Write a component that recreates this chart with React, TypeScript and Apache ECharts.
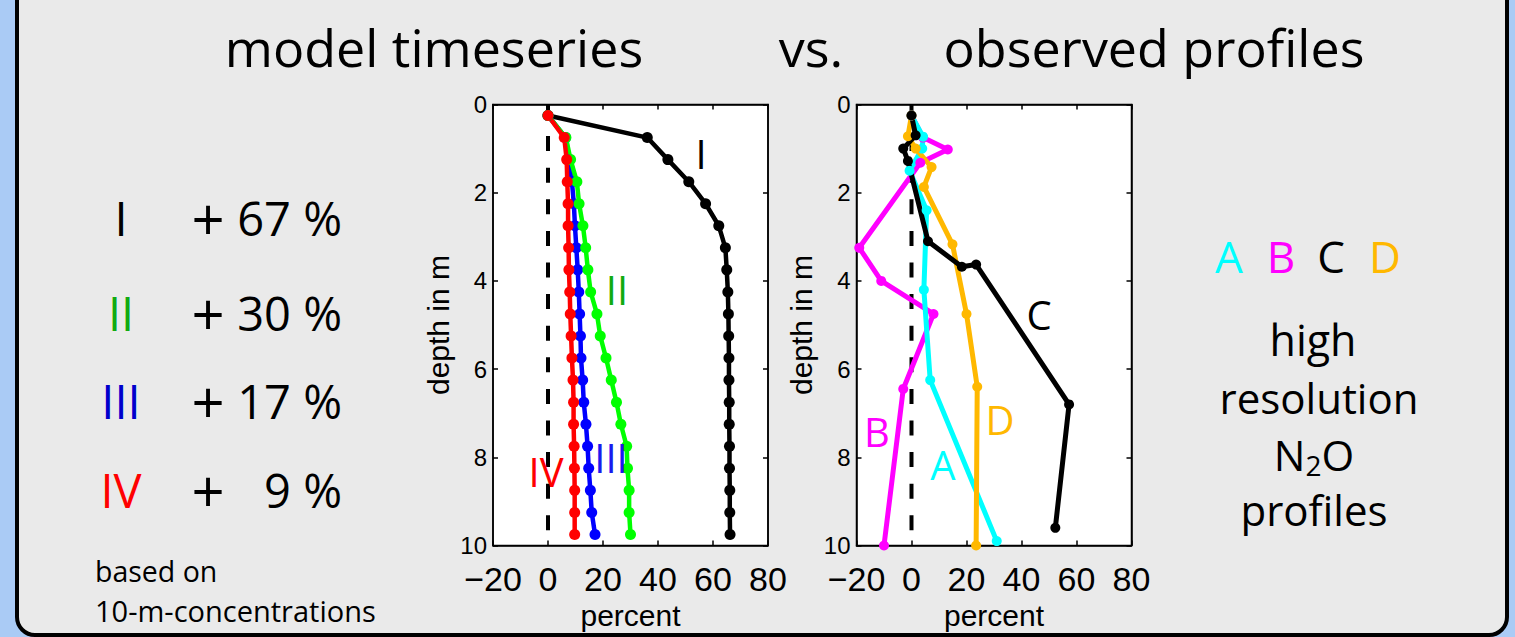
import React, { useEffect, useRef } from "react";
import * as echarts from "echarts";

const FONT = "'Open Sans', sans-serif";
const AXIS_FONT = "'Liberation Sans', Arial, sans-serif";

// ---- model timeseries (left panel) ----
const MODEL_DEPTHS = [0.25, 0.75, 1.25, 1.75, 2.25, 2.75, 3.25, 3.75, 4.25, 4.75, 5.25, 5.75, 6.25, 6.75, 7.25, 7.75, 8.25, 8.75, 9.25, 9.75];
const MODEL_I = [0, 36.1, 43.6, 51.2, 57.3, 62.1, 64.5, 65.0, 65.4, 65.6, 65.7, 65.8, 65.8, 65.9, 65.9, 66.0, 66.0, 66.1, 66.1, 66.2];
const MODEL_II = [0, 6.5, 8.2, 10.5, 11.3, 12.7, 13.7, 14.5, 15.5, 17.8, 19.0, 21.1, 23.0, 24.9, 26.5, 28.6, 28.9, 29.5, 29.5, 30.0];
const MODEL_III = [0, 6.4, 7.8, 8.7, 9.4, 9.8, 10.3, 10.8, 11.2, 11.5, 11.8, 12.0, 12.6, 13.0, 13.8, 14.4, 14.8, 15.4, 15.9, 17.1];
const MODEL_IV = [0, 5.9, 6.8, 7.0, 7.3, 7.3, 7.5, 7.6, 7.9, 8.1, 8.4, 8.7, 9.1, 9.3, 9.3, 9.5, 9.6, 9.7, 9.7, 9.7];

// ---- observed profiles (right panel) : [percent, depth] ----
const OBS_A = [[0, 0.25], [4.2, 0.73], [3.9, 1.0], [-0.7, 1.5], [5.5, 2.4], [4.5, 4.2], [6.8, 6.25], [31, 9.9]];
const OBS_B = [[0, 0.25], [4.2, 0.75], [13.2, 1.02], [3.2, 1.32], [-19, 3.25], [-11, 4.0], [8, 4.75], [-3, 6.45], [-10, 10]];
const OBS_C = [[0, 0.25], [1.5, 0.7], [-3, 1.0], [-1.3, 1.28], [6, 3.1], [18.3, 3.68], [23.5, 3.63], [57.3, 6.8], [52.3, 9.6]];
const OBS_D = [[0, 0.25], [-1.3, 0.72], [1.5, 1.0], [7.3, 1.42], [4.5, 1.87], [14.9, 3.17], [20, 4.75], [23.9, 6.4], [23.5, 10]];

const ZERO_LINE = [[0, 0], [0, 10]];

const X_MIN = -20, X_MAX = 80, X_STEP = 20;
const Y_MIN = 0, Y_MAX = 10, Y_STEP = 2;

const SUMMARY_NUMERALS = ["I", "II", "III", "IV"];
const SUMMARY_VALUES = ["67 %", "30 %", "17 %", "9 %"];

const pairs = (vals: number[]) => vals.map((v, i) => [v, MODEL_DEPTHS[i]]);

const fmtX = (v: number) => (v < 0 ? "\u2212" + Math.abs(v) : String(v));

function makeAxes(grid: number) {
  const line = { show: true, onZero: false, lineStyle: { color: "#000", width: 1.5 } };
  const tick = { show: true, inside: true, length: 5, lineStyle: { color: "#000", width: 1.5 } };
  const x = [
    {
      gridIndex: grid, type: "value", min: X_MIN, max: X_MAX, interval: X_STEP, position: "bottom",
      axisLine: line, axisTick: tick, splitLine: { show: false },
      axisLabel: { fontSize: 34, color: "#000", margin: 16, fontFamily: AXIS_FONT, formatter: fmtX },
      name: "percent", nameLocation: "middle", nameGap: 54,
      nameTextStyle: { fontSize: 30, color: "#000", fontFamily: AXIS_FONT },
    },
    {
      gridIndex: grid, type: "value", min: X_MIN, max: X_MAX, interval: X_STEP, position: "top",
      axisLine: line, axisTick: tick, splitLine: { show: false }, axisLabel: { show: false },
    },
  ];
  const y = [
    {
      gridIndex: grid, type: "value", inverse: true, min: Y_MIN, max: Y_MAX, interval: Y_STEP, position: "left",
      axisLine: line, axisTick: tick, splitLine: { show: false },
      axisLabel: { fontSize: 24, color: "#000", margin: 6, fontFamily: AXIS_FONT },
      name: "depth in m", nameLocation: "middle", nameGap: 40,
      nameTextStyle: { fontSize: 30, color: "#000", fontFamily: AXIS_FONT },
    },
    {
      gridIndex: grid, type: "value", inverse: true, min: Y_MIN, max: Y_MAX, interval: Y_STEP, position: "right",
      axisLine: line, axisTick: tick, splitLine: { show: false }, axisLabel: { show: false },
    },
  ];
  return { x, y };
}

function lineSeries(data: number[][], color: string, axis: number, width: number, size: number) {
  return {
    type: "line", xAxisIndex: axis, yAxisIndex: axis, data,
    symbol: "circle", symbolSize: size, showSymbol: true,
    lineStyle: { color, width }, itemStyle: { color },
    z: 3, silent: true,
  };
}

function txt(text: string, x: number, y: number, size: number, color = "#000", align = "center") {
  return {
    type: "text", x, y, z: 50,
    style: { text, fill: color, fontSize: size, fontFamily: FONT, align, verticalAlign: "middle" },
  };
}

export default function App() {
  const ref = useRef<HTMLDivElement>(null);
  useEffect(() => {
    document.body.style.margin = "0";
    const chart = echarts.init(ref.current!, undefined, { renderer: "svg" });
    const a0 = makeAxes(0);
    const a1 = makeAxes(1);
    const numColors = ["#000000", "#11aa11", "#0000cc", "#ff0000"];
    const rowY = [218, 313, 401, 490];
    const summary: any[] = [];
    SUMMARY_NUMERALS.forEach((n, i) => {
      summary.push(txt(n, 121, rowY[i], 47, numColors[i]));
      summary.push(txt("+", 208, rowY[i], 58));
      summary.push(txt(SUMMARY_VALUES[i], 342, rowY[i], 47, "#000", "right"));
    });
    const dash = { color: "#000", width: 4, type: [15, 16.6] };
    const option: any = {
      animation: false,
      backgroundColor: "#AACBF5",
      textStyle: { fontFamily: FONT },
      grid: [
        { left: 493, top: 104.5, width: 275, height: 441, show: true, backgroundColor: "#ffffff", borderColor: "#000", borderWidth: 1.5 },
        { left: 856.5, top: 104.5, width: 275, height: 441, show: true, backgroundColor: "#ffffff", borderColor: "#000", borderWidth: 1.5 },
      ],
      xAxis: [...a0.x, ...a1.x],
      yAxis: [...a0.y, ...a1.y],
      series: [
        { type: "line", xAxisIndex: 0, yAxisIndex: 0, data: ZERO_LINE, symbol: "none", silent: true, z: 2, lineStyle: dash },
        lineSeries(pairs(MODEL_I), "#000000", 0, 4.5, 11),
        lineSeries(pairs(MODEL_III), "#0000ff", 0, 4.5, 11),
        lineSeries(pairs(MODEL_II), "#00ff00", 0, 4.5, 11),
        lineSeries(pairs(MODEL_IV), "#ff0000", 0, 4.5, 11),
        { type: "line", xAxisIndex: 2, yAxisIndex: 2, data: ZERO_LINE, symbol: "none", silent: true, z: 2, lineStyle: dash },
        lineSeries(OBS_B, "#ff00ff", 2, 5, 10),
        lineSeries(OBS_A, "#00ffff", 2, 5, 10),
        lineSeries(OBS_D, "#ffb800", 2, 5, 10),
        lineSeries(OBS_C, "#000000", 2, 5, 10),
      ],
      graphic: [
        {
          type: "rect", z: -100,
          shape: { x: 17, y: -30, width: 1490, height: 665, r: 18 },
          style: { fill: "#EAEAEA", stroke: "#000", lineWidth: 4 },
        },
        txt("model timeseries", 434, 46, 52),
        txt("vs.", 811, 46, 52),
        txt("observed profiles", 1154, 46, 52),
        ...summary,
        txt("based on", 95, 571, 28.5, "#000", "left"),
        txt("10-m-concentrations", 95, 610, 29, "#000", "left"),
        txt("I", 701, 153, 40, "#000000"),
        txt("II", 617, 289, 40, "#11aa11"),
        txt("III", 611, 457, 40, "#1a1aee"),
        txt("IV", 546, 471, 40, "#ff0000"),
        txt("C", 1039, 314, 40, "#000000"),
        txt("D", 1000, 419, 40, "#ffb800"),
        txt("B", 877, 431, 40, "#ff00ff"),
        txt("A", 943, 464, 40, "#00ffff"),
        txt("A", 1229, 256, 44, "#00ffff"),
        txt("B", 1281, 256, 44, "#ff00ff"),
        txt("C", 1331, 256, 44, "#000000"),
        txt("D", 1385, 256, 44, "#ffb800"),
        txt("high", 1313, 339, 43),
        txt("resolution", 1319, 397, 42),
        {
          type: "text", x: 1314, y: 454, z: 50,
          style: {
            text: "{n|N}{s|2}{n|O}", align: "center", verticalAlign: "middle",
            rich: {
              n: { fontSize: 42, lineHeight: 50, fontFamily: FONT, fill: "#000" },
              s: { fontSize: 28, lineHeight: 34, fontFamily: FONT, fill: "#000", verticalAlign: "bottom" },
            },
          },
        },
        txt("profiles", 1314, 509, 42),
      ],
    };
    chart.setOption(option);
    return () => chart.dispose();
  }, []);
  return <div ref={ref} style={{ width: 1515, height: 637 }} />;
}
